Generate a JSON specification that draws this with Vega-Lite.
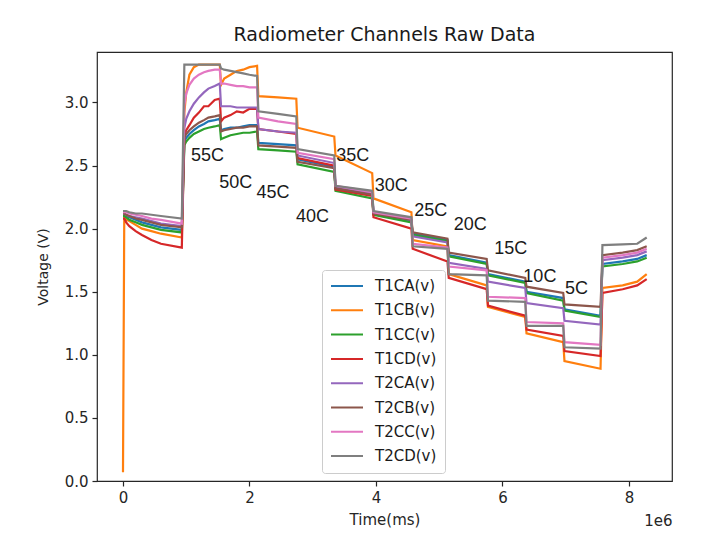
{
  "$schema": "https://vega.github.io/schema/vega-lite/v6.json",
  "width": 575,
  "height": 429,
  "autosize": {"type": "none"},
  "padding": {"left": 97, "top": 52, "right": 41, "bottom": 65},
  "background": "white",
  "title": {
    "text": "Radiometer Channels Raw Data",
    "font": "DejaVu Sans",
    "fontSize": 19,
    "fontWeight": "normal",
    "color": "#1a1a1a",
    "anchor": "middle",
    "offset": 7
  },
  "config": {
    "view": {"stroke": "#262626", "strokeWidth": 1.2},
    "axis": {
      "domain": false,
      "grid": false,
      "tickColor": "#262626",
      "tickSize": 5,
      "tickWidth": 1.2,
      "labelPadding": 4,
      "labelFont": "DejaVu Sans",
      "labelFontSize": 15,
      "labelColor": "#262626",
      "titleFont": "DejaVu Sans",
      "titleFontSize": 15,
      "titleFontWeight": "normal",
      "titleColor": "#262626"
    },
    "legend": {
      "orient": "none",
      "legendX": 225,
      "legendY": 218,
      "padding": 8,
      "strokeColor": "#cccccc",
      "fillColor": "rgba(255,255,255,0.8)",
      "cornerRadius": 3,
      "symbolType": "stroke",
      "symbolSize": 1024,
      "symbolStrokeWidth": 2,
      "clipHeight": 16,
      "rowPadding": 8.3,
      "labelFont": "DejaVu Sans",
      "labelFontSize": 15,
      "labelColor": "#1a1a1a",
      "labelOffset": 11
    }
  },
  "datasets": {
    "channels": [
      {"time_ms": 0, "T1CA": 2.11, "T1CB": 0.07, "T1CC": 2.10, "T1CD": 2.08, "T2CA": 2.12, "T2CB": 2.12, "T2CC": 2.13, "T2CD": 2.14},
      {"time_ms": 20000, "T1CA": 2.11, "T1CB": 2.09, "T1CC": 2.10, "T1CD": 2.08, "T2CA": 2.12, "T2CB": 2.12, "T2CC": 2.13, "T2CD": 2.14},
      {"time_ms": 50000, "T1CA": 2.10, "T1CB": 2.07, "T1CC": 2.09, "T1CD": 2.05, "T2CA": 2.11, "T2CB": 2.11, "T2CC": 2.13, "T2CD": 2.14},
      {"time_ms": 100000, "T1CA": 2.09, "T1CB": 2.06, "T1CC": 2.07, "T1CD": 2.02, "T2CA": 2.10, "T2CB": 2.10, "T2CC": 2.12, "T2CD": 2.13},
      {"time_ms": 200000, "T1CA": 2.07, "T1CB": 2.03, "T1CC": 2.05, "T1CD": 1.98, "T2CA": 2.09, "T2CB": 2.08, "T2CC": 2.11, "T2CD": 2.12},
      {"time_ms": 300000, "T1CA": 2.05, "T1CB": 2.00, "T1CC": 2.03, "T1CD": 1.95, "T2CA": 2.08, "T2CB": 2.07, "T2CC": 2.10, "T2CD": 2.12},
      {"time_ms": 450000, "T1CA": 2.03, "T1CB": 1.98, "T1CC": 2.01, "T1CD": 1.91, "T2CA": 2.06, "T2CB": 2.05, "T2CC": 2.08, "T2CD": 2.11},
      {"time_ms": 600000, "T1CA": 2.01, "T1CB": 1.96, "T1CC": 1.99, "T1CD": 1.88, "T2CA": 2.04, "T2CB": 2.03, "T2CC": 2.07, "T2CD": 2.10},
      {"time_ms": 930000, "T1CA": 1.99, "T1CB": 1.93, "T1CC": 1.97, "T1CD": 1.85, "T2CA": 2.02, "T2CB": 2.01, "T2CC": 2.04, "T2CD": 2.08},
      {"time_ms": 970000, "T1CA": 2.69, "T1CB": 2.92, "T1CC": 2.66, "T1CD": 2.74, "T2CA": 2.80, "T2CB": 2.72, "T2CC": 2.98, "T2CD": 3.30},
      {"time_ms": 1000000, "T1CA": 2.72, "T1CB": 3.08, "T1CC": 2.69, "T1CD": 2.78, "T2CA": 2.87, "T2CB": 2.75, "T2CC": 3.07, "T2CD": 3.30},
      {"time_ms": 1050000, "T1CA": 2.75, "T1CB": 3.22, "T1CC": 2.72, "T1CD": 2.82, "T2CA": 2.93, "T2CB": 2.78, "T2CC": 3.14, "T2CD": 3.30},
      {"time_ms": 1120000, "T1CA": 2.78, "T1CB": 3.28, "T1CC": 2.75, "T1CD": 2.88, "T2CA": 2.99, "T2CB": 2.81, "T2CC": 3.19, "T2CD": 3.30},
      {"time_ms": 1200000, "T1CA": 2.81, "T1CB": 3.30, "T1CC": 2.77, "T1CD": 2.92, "T2CA": 3.04, "T2CB": 2.84, "T2CC": 3.22, "T2CD": 3.30},
      {"time_ms": 1280000, "T1CA": 2.83, "T1CB": 3.30, "T1CC": 2.79, "T1CD": 2.97, "T2CA": 3.08, "T2CB": 2.86, "T2CC": 3.24, "T2CD": 3.30},
      {"time_ms": 1350000, "T1CA": 2.85, "T1CB": 3.30, "T1CC": 2.80, "T1CD": 2.97, "T2CA": 3.11, "T2CB": 2.88, "T2CC": 3.25, "T2CD": 3.30},
      {"time_ms": 1450000, "T1CA": 2.86, "T1CB": 3.30, "T1CC": 2.81, "T1CD": 3.02, "T2CA": 3.13, "T2CB": 2.89, "T2CC": 3.26, "T2CD": 3.30},
      {"time_ms": 1530000, "T1CA": 2.87, "T1CB": 3.30, "T1CC": 2.82, "T1CD": 3.03, "T2CA": 3.15, "T2CB": 2.90, "T2CC": 3.26, "T2CD": 3.30},
      {"time_ms": 1550000, "T1CA": 2.78, "T1CB": 3.14, "T1CC": 2.71, "T1CD": 2.85, "T2CA": 2.97, "T2CB": 2.77, "T2CC": 3.15, "T2CD": 3.27},
      {"time_ms": 1600000, "T1CA": 2.79, "T1CB": 3.19, "T1CC": 2.72, "T1CD": 2.88, "T2CA": 2.97, "T2CB": 2.78, "T2CC": 3.15, "T2CD": 3.26},
      {"time_ms": 1700000, "T1CA": 2.80, "T1CB": 3.22, "T1CC": 2.74, "T1CD": 2.90, "T2CA": 2.97, "T2CB": 2.79, "T2CC": 3.14, "T2CD": 3.25},
      {"time_ms": 1800000, "T1CA": 2.80, "T1CB": 3.25, "T1CC": 2.75, "T1CD": 2.93, "T2CA": 2.96, "T2CB": 2.80, "T2CC": 3.13, "T2CD": 3.24},
      {"time_ms": 1900000, "T1CA": 2.81, "T1CB": 3.26, "T1CC": 2.76, "T1CD": 2.92, "T2CA": 2.96, "T2CB": 2.80, "T2CC": 3.13, "T2CD": 3.23},
      {"time_ms": 2000000, "T1CA": 2.82, "T1CB": 3.28, "T1CC": 2.76, "T1CD": 2.95, "T2CA": 2.96, "T2CB": 2.81, "T2CC": 3.12, "T2CD": 3.22},
      {"time_ms": 2120000, "T1CA": 2.82, "T1CB": 3.29, "T1CC": 2.77, "T1CD": 2.95, "T2CA": 2.96, "T2CB": 2.81, "T2CC": 3.12, "T2CD": 3.21},
      {"time_ms": 2140000, "T1CA": 2.68, "T1CB": 3.05, "T1CC": 2.63, "T1CD": 2.79, "T2CA": 2.79, "T2CB": 2.66, "T2CC": 2.88, "T2CD": 2.93},
      {"time_ms": 2450000, "T1CA": 2.67, "T1CB": 3.04, "T1CC": 2.62, "T1CD": 2.77, "T2CA": 2.77, "T2CB": 2.65, "T2CC": 2.85, "T2CD": 2.91},
      {"time_ms": 2740000, "T1CA": 2.66, "T1CB": 3.03, "T1CC": 2.61, "T1CD": 2.75, "T2CA": 2.76, "T2CB": 2.64, "T2CC": 2.83, "T2CD": 2.89},
      {"time_ms": 2760000, "T1CA": 2.55, "T1CB": 2.80, "T1CC": 2.51, "T1CD": 2.56, "T2CA": 2.58, "T2CB": 2.53, "T2CC": 2.60, "T2CD": 2.63},
      {"time_ms": 3340000, "T1CA": 2.49, "T1CB": 2.73, "T1CC": 2.45, "T1CD": 2.50, "T2CA": 2.52, "T2CB": 2.48, "T2CC": 2.55, "T2CD": 2.58},
      {"time_ms": 3360000, "T1CA": 2.32, "T1CB": 2.58, "T1CC": 2.30, "T1CD": 2.31, "T2CA": 2.33, "T2CB": 2.32, "T2CC": 2.34, "T2CD": 2.34},
      {"time_ms": 3940000, "T1CA": 2.27, "T1CB": 2.44, "T1CC": 2.24, "T1CD": 2.26, "T2CA": 2.28, "T2CB": 2.27, "T2CC": 2.29, "T2CD": 2.30},
      {"time_ms": 3960000, "T1CA": 2.12, "T1CB": 2.24, "T1CC": 2.11, "T1CD": 2.09, "T2CA": 2.13, "T2CB": 2.12, "T2CC": 2.13, "T2CD": 2.14},
      {"time_ms": 4560000, "T1CA": 2.06, "T1CB": 2.13, "T1CC": 2.05, "T1CD": 2.00, "T2CA": 2.07, "T2CB": 2.07, "T2CC": 2.08, "T2CD": 2.09},
      {"time_ms": 4580000, "T1CA": 1.96, "T1CB": 1.91, "T1CC": 1.95, "T1CD": 1.84, "T2CA": 1.94, "T2CB": 1.97, "T2CC": 1.88, "T2CD": 1.86},
      {"time_ms": 5130000, "T1CA": 1.91, "T1CB": 1.86, "T1CC": 1.90, "T1CD": 1.74, "T2CA": 1.89, "T2CB": 1.92, "T2CC": 1.85, "T2CD": 1.84},
      {"time_ms": 5150000, "T1CA": 1.79, "T1CB": 1.64, "T1CC": 1.78, "T1CD": 1.61, "T2CA": 1.73, "T2CB": 1.81, "T2CC": 1.70, "T2CD": 1.64},
      {"time_ms": 5750000, "T1CA": 1.73, "T1CB": 1.55, "T1CC": 1.72, "T1CD": 1.52, "T2CA": 1.68, "T2CB": 1.76, "T2CC": 1.67, "T2CD": 1.63},
      {"time_ms": 5770000, "T1CA": 1.64, "T1CB": 1.38, "T1CC": 1.63, "T1CD": 1.39, "T2CA": 1.58, "T2CB": 1.67, "T2CC": 1.46, "T2CD": 1.43},
      {"time_ms": 6360000, "T1CA": 1.58, "T1CB": 1.30, "T1CC": 1.57, "T1CD": 1.31, "T2CA": 1.53, "T2CB": 1.61, "T2CC": 1.45, "T2CD": 1.42},
      {"time_ms": 6380000, "T1CA": 1.50, "T1CB": 1.17, "T1CC": 1.49, "T1CD": 1.20, "T2CA": 1.41, "T2CB": 1.54, "T2CC": 1.26, "T2CD": 1.23},
      {"time_ms": 6960000, "T1CA": 1.45, "T1CB": 1.10, "T1CC": 1.43, "T1CD": 1.15, "T2CA": 1.37, "T2CB": 1.49, "T2CC": 1.25, "T2CD": 1.23},
      {"time_ms": 6980000, "T1CA": 1.36, "T1CB": 0.95, "T1CC": 1.35, "T1CD": 1.03, "T2CA": 1.27, "T2CB": 1.40, "T2CC": 1.10, "T2CD": 1.06},
      {"time_ms": 7550000, "T1CA": 1.31, "T1CB": 0.89, "T1CC": 1.30, "T1CD": 0.99, "T2CA": 1.24, "T2CB": 1.38, "T2CC": 1.08, "T2CD": 1.05},
      {"time_ms": 7580000, "T1CA": 1.72, "T1CB": 1.53, "T1CC": 1.70, "T1CD": 1.49, "T2CA": 1.75, "T2CB": 1.79, "T2CC": 1.77, "T2CD": 1.87},
      {"time_ms": 7900000, "T1CA": 1.74, "T1CB": 1.55, "T1CC": 1.72, "T1CD": 1.52, "T2CA": 1.77, "T2CB": 1.81, "T2CC": 1.79, "T2CD": 1.875},
      {"time_ms": 8130000, "T1CA": 1.76, "T1CB": 1.58, "T1CC": 1.74, "T1CD": 1.55, "T2CA": 1.79, "T2CB": 1.83, "T2CC": 1.81, "T2CD": 1.88},
      {"time_ms": 8280000, "T1CA": 1.79, "T1CB": 1.64, "T1CC": 1.77, "T1CD": 1.60, "T2CA": 1.82, "T2CB": 1.86, "T2CC": 1.84, "T2CD": 1.93}
    ],
    "temps": [
      {"label": "55C", "time_ms": 1075000, "voltage": 2.54},
      {"label": "50C", "time_ms": 1520000, "voltage": 2.32},
      {"label": "45C", "time_ms": 2110000, "voltage": 2.24},
      {"label": "40C", "time_ms": 2735000, "voltage": 2.05},
      {"label": "35C", "time_ms": 3370000, "voltage": 2.54},
      {"label": "30C", "time_ms": 3980000, "voltage": 2.30},
      {"label": "25C", "time_ms": 4605000, "voltage": 2.10},
      {"label": "20C", "time_ms": 5230000, "voltage": 1.99},
      {"label": "15C", "time_ms": 5870000, "voltage": 1.80},
      {"label": "10C", "time_ms": 6330000, "voltage": 1.58},
      {"label": "5C", "time_ms": 6990000, "voltage": 1.485}
    ]
  },
  "layer": [
    {
      "data": {"name": "channels"},
      "transform": [
        {"fold": ["T1CA", "T1CB", "T1CC", "T1CD", "T2CA", "T2CB", "T2CC", "T2CD"], "as": ["channel", "voltage"]}
      ],
      "mark": {"type": "line", "strokeWidth": 2.2, "clip": true},
      "encoding": {
        "x": {
          "field": "time_ms",
          "type": "quantitative",
          "scale": {"domain": [-411000, 8680000], "nice": false, "zero": false},
          "axis": {
            "values": [0, 2000000, 4000000, 6000000, 8000000],
            "labelExpr": "format(datum.value / 1000000, 'd')",
            "title": "Time(ms)",
            "titlePadding": 7
          }
        },
        "y": {
          "field": "voltage",
          "type": "quantitative",
          "scale": {"domain": [0, 3.4], "nice": false},
          "axis": {
            "values": [0, 0.5, 1, 1.5, 2, 2.5, 3],
            "format": ".1f",
            "title": "Voltage (V)",
            "titleFontSize": 14,
            "titlePadding": 14
          }
        },
        "color": {
          "field": "channel",
          "type": "nominal",
          "scale": {
            "domain": ["T1CA", "T1CB", "T1CC", "T1CD", "T2CA", "T2CB", "T2CC", "T2CD"],
            "range": ["#1f77b4", "#ff7f0e", "#2ca02c", "#d62728", "#9467bd", "#8c564b", "#e377c2", "#7f7f7f"]
          },
          "legend": {"title": null, "labelExpr": "datum.label + '(v)'"}
        }
      }
    },
    {
      "data": {"name": "temps"},
      "mark": {
        "type": "text",
        "align": "left",
        "baseline": "alphabetic",
        "font": "Liberation Sans",
        "fontSize": 18,
        "color": "#1a1a1a"
      },
      "encoding": {
        "x": {
          "field": "time_ms",
          "type": "quantitative",
          "scale": {"domain": [-411000, 8680000], "nice": false, "zero": false},
          "axis": {
            "orient": "bottom",
            "labels": false,
            "ticks": false,
            "domain": false,
            "title": "1e6",
            "titleAlign": "right",
            "titleBaseline": "top",
            "titleX": 575,
            "titleY": 32
          }
        },
        "y": {"field": "voltage", "type": "quantitative"},
        "text": {"field": "label"}
      }
    }
  ],
  "resolve": {"axis": {"x": "independent"}}
}
